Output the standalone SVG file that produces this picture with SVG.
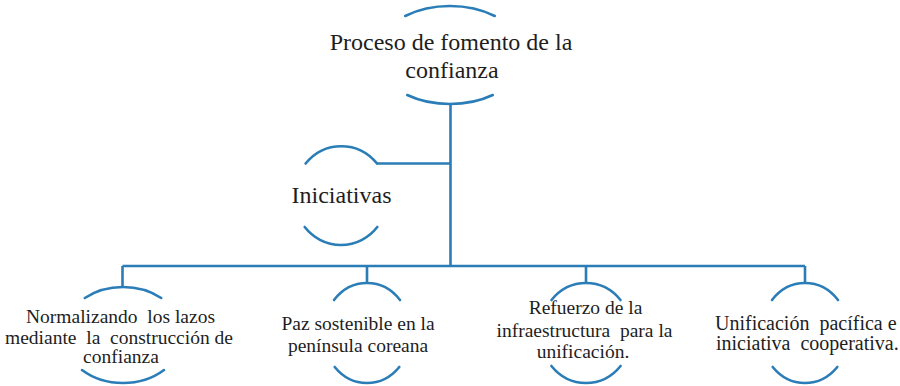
<svg xmlns="http://www.w3.org/2000/svg" width="900" height="386" viewBox="0 0 900 386">
<style>
.arc{fill:none;stroke:#2a7db6;stroke-width:2.6;stroke-linecap:round}
.con{fill:none;stroke:#2a7db6;stroke-width:2.6}
.t{font-family:'Liberation Serif','Times New Roman',Times,serif;fill:#1e1e1e;white-space:pre}
.big{font-size:24px}
.sm{font-size:19.5px}
.c{text-anchor:middle}
</style>
<rect width="900" height="386" fill="#ffffff"/>
<g id="connectors">
<path class="con" d="M450.5,104 V266"/>
<path class="con" d="M377,163.5 H450.5"/>
<path class="con" d="M122.5,266 H805"/>
<path class="con" d="M122.5,266 V287"/>
<path class="con" d="M367,266 V283"/>
<path class="con" d="M586,266 V283"/>
<path class="con" d="M805,266 V283"/>
</g>
<g id="node-root">
<path class="arc" d="M405.2,16 A74,49 0 0 1 494.8,16"/>
<path class="arc" d="M407.2,95 A74,49 0 0 0 492.8,95"/>
<text class="t big c" x="451" y="50" xml:space="preserve">Proceso de fomento de la</text>
<text class="t big c" x="452" y="78" xml:space="preserve">confianza</text>
</g>
<g id="node-iniciativas">
<path class="arc" d="M305.6,163.5 A47,49.5 0 0 1 377,163.5"/>
<path class="arc" d="M304.7,227 A47,49.5 0 0 0 377.3,227"/>
<text class="t big c" x="341.5" y="203" xml:space="preserve">Iniciativas</text>
</g>
<g id="node-normalizando">
<path class="arc" d="M84.8,298 A60,48 0 0 1 161.2,298"/>
<path class="arc" d="M82,370 A60,48 0 0 0 164,370"/>
<text class="t sm c" x="120.5" y="323" xml:space="preserve">Normalizando  los lazos</text>
<text class="t sm c" x="119" y="344" xml:space="preserve">mediante  la  construcción de</text>
<text class="t sm c" x="121" y="363" xml:space="preserve">confianza</text>
</g>
<g id="node-paz">
<path class="arc" d="M334,300 A44,50 0 0 1 400,300"/>
<path class="arc" d="M334.7,367 A44,50 0 0 0 399.3,367"/>
<text class="t sm c" x="358" y="330" xml:space="preserve">Paz sostenible en la</text>
<text class="t sm c" x="358" y="352" xml:space="preserve">península coreana</text>
</g>
<g id="node-refuerzo">
<path class="arc" d="M551.5,300 A46,50 0 0 1 620.5,300"/>
<path class="arc" d="M551.4,366 A46,50 0 0 0 620.6,366"/>
<text class="t sm c" x="585.5" y="314" xml:space="preserve">Refuerzo de la</text>
<text class="t sm c" x="584.5" y="337" xml:space="preserve">infraestructura  para la</text>
<text class="t sm c" x="583" y="358" xml:space="preserve">unificación.</text>
</g>
<g id="node-unificacion">
<path class="arc" d="M772,300 A44,50 0 0 1 838,300"/>
<path class="arc" d="M772.7,367 A44,50 0 0 0 837.3,367"/>
<text class="t" font-size="20" x="715" y="330" xml:space="preserve">Unificación  pacífica e</text>
<text class="t" font-size="20" x="716" y="350" xml:space="preserve">iniciativa  cooperativa.</text>
</g>
</svg>
